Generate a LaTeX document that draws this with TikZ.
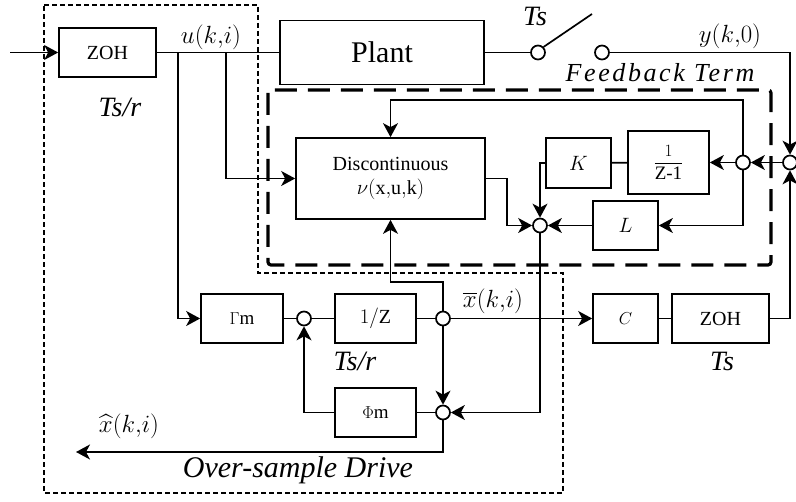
\documentclass[tikz,border=0pt]{standalone}
\usepackage{amsmath}
\usepackage{fontspec}
\setmainfont{Liberation Serif}
\usepackage{tikz}
\usetikzlibrary{arrows.meta, positioning, calc}
\tikzset{
    block/.style={rectangle, draw, line width=1.7pt, inner sep=0pt,
                  text centered, align=center, font=\fontsize{20}{24}\selectfont},
    sumnode/.style={circle, draw, fill=white, line width=1.7pt,
                    minimum size=14pt, inner sep=0pt},
    wire/.style={line width=1.7pt},
    arrow/.style={-{Stealth[length=14pt, width=15pt, inset=4pt]}, line width=1.7pt},
    sig/.style={font=\fontsize{26}{30}\selectfont},
    itlabel/.style={font=\fontsize{28}{32}\selectfont\itshape},
    drivebox/.style={dash pattern=on 5pt off 3pt, line width=1.2pt},
    fbbox/.style={dash pattern=on 22pt off 11pt, line width=3.2pt, rounded corners=3pt}
}
\begin{document}
\begin{tikzpicture}[x=1pt, y=-1pt]
    \useasboundingbox (0,0) rectangle (796,502);
    % dashed regions
    \draw[drivebox] (44,5) -- (258,5) -- (258,273) -- (563,273) -- (563,493) -- (44,493) -- cycle;
    \draw[fbbox] (268,90) rectangle (771,265);

    % blocks
    \node[block, minimum width=97pt, minimum height=49pt] (zohin) at (107.5,52.5) {ZOH};
    \node[block, minimum width=204pt, minimum height=64pt, font=\fontsize{30}{34}\selectfont] (plant) at (382,52.5) {Plant};
    \node[block, minimum width=189pt, minimum height=81pt] (disc) at (390.5,178.5) {Discontinuous\\$\nu(\mathrm{x{,}u{,}k})$};
    \node[block, minimum width=65pt, minimum height=50pt, font=\fontsize{22}{26}\selectfont] (kgain) at (578.5,163) {$K$};
    \node[block, minimum width=81pt, minimum height=63pt, font=\fontsize{19}{22}\selectfont] (integ) at (668.5,162.5) {$\dfrac{1}{\mbox{Z-1}}$};
    \node[block, minimum width=65pt, minimum height=49pt, font=\fontsize{22}{26}\selectfont] (lgain) at (625.5,225.5) {$L$};
    \node[block, minimum width=82pt, minimum height=49pt, font=\fontsize{19}{22}\selectfont] (gamma) at (242,318.5) {$\Gamma$m};
    \node[block, minimum width=81pt, minimum height=49pt] (delay) at (375.5,318.5) {$1/\mathrm{Z}$};
    \node[block, minimum width=81pt, minimum height=49pt, font=\fontsize{19}{22}\selectfont] (phi) at (375.5,412.5) {$\Phi$m};
    \node[block, minimum width=65pt, minimum height=49pt, font=\fontsize{19}{22}\selectfont] (cgain) at (625.5,318.5) {$C$};
    \node[block, minimum width=97pt, minimum height=49pt] (zohout) at (720.5,318.5) {ZOH};

    % junctions
    \node[sumnode] (swa) at (538,52.5) {};
    \node[sumnode] (swb) at (602,52.5) {};
    \node[sumnode] (sumy) at (790,162.5) {};
    \node[sumnode] (branch) at (743,162.5) {};
    \node[sumnode] (sumkl) at (540,225.5) {};
    \node[sumnode] (sumg) at (304,318.5) {};
    \node[sumnode] (xbar) at (443,318.5) {};
    \node[sumnode] (sumphi) at (443,412.5) {};

    \coordinate (in) at (10,52.5);
    \coordinate (ua) at (178,52.5);
    \coordinate (ub) at (226,52.5);
    \coordinate (swtip) at (592,14);
    \coordinate (fbtop) at (390.5,100);
    \coordinate (dbend) at (507,178.5);
    \coordinate (xup) at (390.5,282);
    \coordinate (xhat) at (76,452);

    % labels
    \node[sig] (ulbl) at (211,37) {$u(k{,}i)$};
    \node[sig] (ylbl) at (730,36) {$y(k{,}0)$};
    \node[sig] (xbarlbl) at (493,301) {$\overline{x}(k{,}i)$};
    \node[sig] (xhatlbl) at (129,426) {$\widehat{x}(k{,}i)$};
    \node[itlabel] (tsr1) at (120,107) {Ts/r};
    \node[itlabel] (tsr2) at (355,361) {Ts/r};
    \node[itlabel] (ts1) at (535,16) {Ts};
    \node[itlabel] (ts2) at (722,361) {Ts};
    \node[font=\fontsize{26}{30}\selectfont\itshape\addfontfeature{LetterSpace=10}] (fblbl) at (660,73) {Feedback Term};
    \node[font=\fontsize{30}{34}\selectfont\itshape] (drvlbl) at (298,470) {Over-sample Drive};

    % connections
    \draw[arrow] (in) -- (zohin);
    \draw[wire] (zohin) -- (plant);
    \draw[arrow] (ua) |- (gamma.west);
    \draw[arrow] (ub) |- (disc.west);
    \draw[wire] (plant) -- (swa);
    \draw[wire] (swa.north east) -- (swtip);
    \draw[arrow] (swb) -| (sumy.north);
    \draw[arrow] (zohout.east) -| (sumy.south);
    \draw[arrow] (sumy) -- (branch);
    \draw[arrow] (branch) -- (integ);
    \draw[wire] (integ) -- (kgain);
    \draw[arrow] (kgain.west) -| (sumkl.north);
    \draw[arrow] (branch.south) |- (lgain.east);
    \draw[arrow] (lgain) -- (sumkl);
    \draw[arrow] (branch.north) |- (fbtop) -- (disc.north);
    \draw[arrow] (disc.east) -- (dbend) |- (sumkl.west);
    \draw[arrow] (sumkl.south) |- (sumphi.east);
    \draw[wire] (gamma) -- (sumg) -- (delay) -- (xbar);
    \draw[arrow] (xbar) -- (cgain);
    \draw[wire] (cgain) -- (zohout);
    \draw[arrow] (xbar.north) |- (xup) -- (disc.south);
    \draw[arrow] (xbar) -- (sumphi);
    \draw[wire] (sumphi) -- (phi);
    \draw[arrow] (phi.west) -| (sumg.south);
    \draw[arrow] (sumphi.south) |- (xhat);
\end{tikzpicture}
\end{document}
